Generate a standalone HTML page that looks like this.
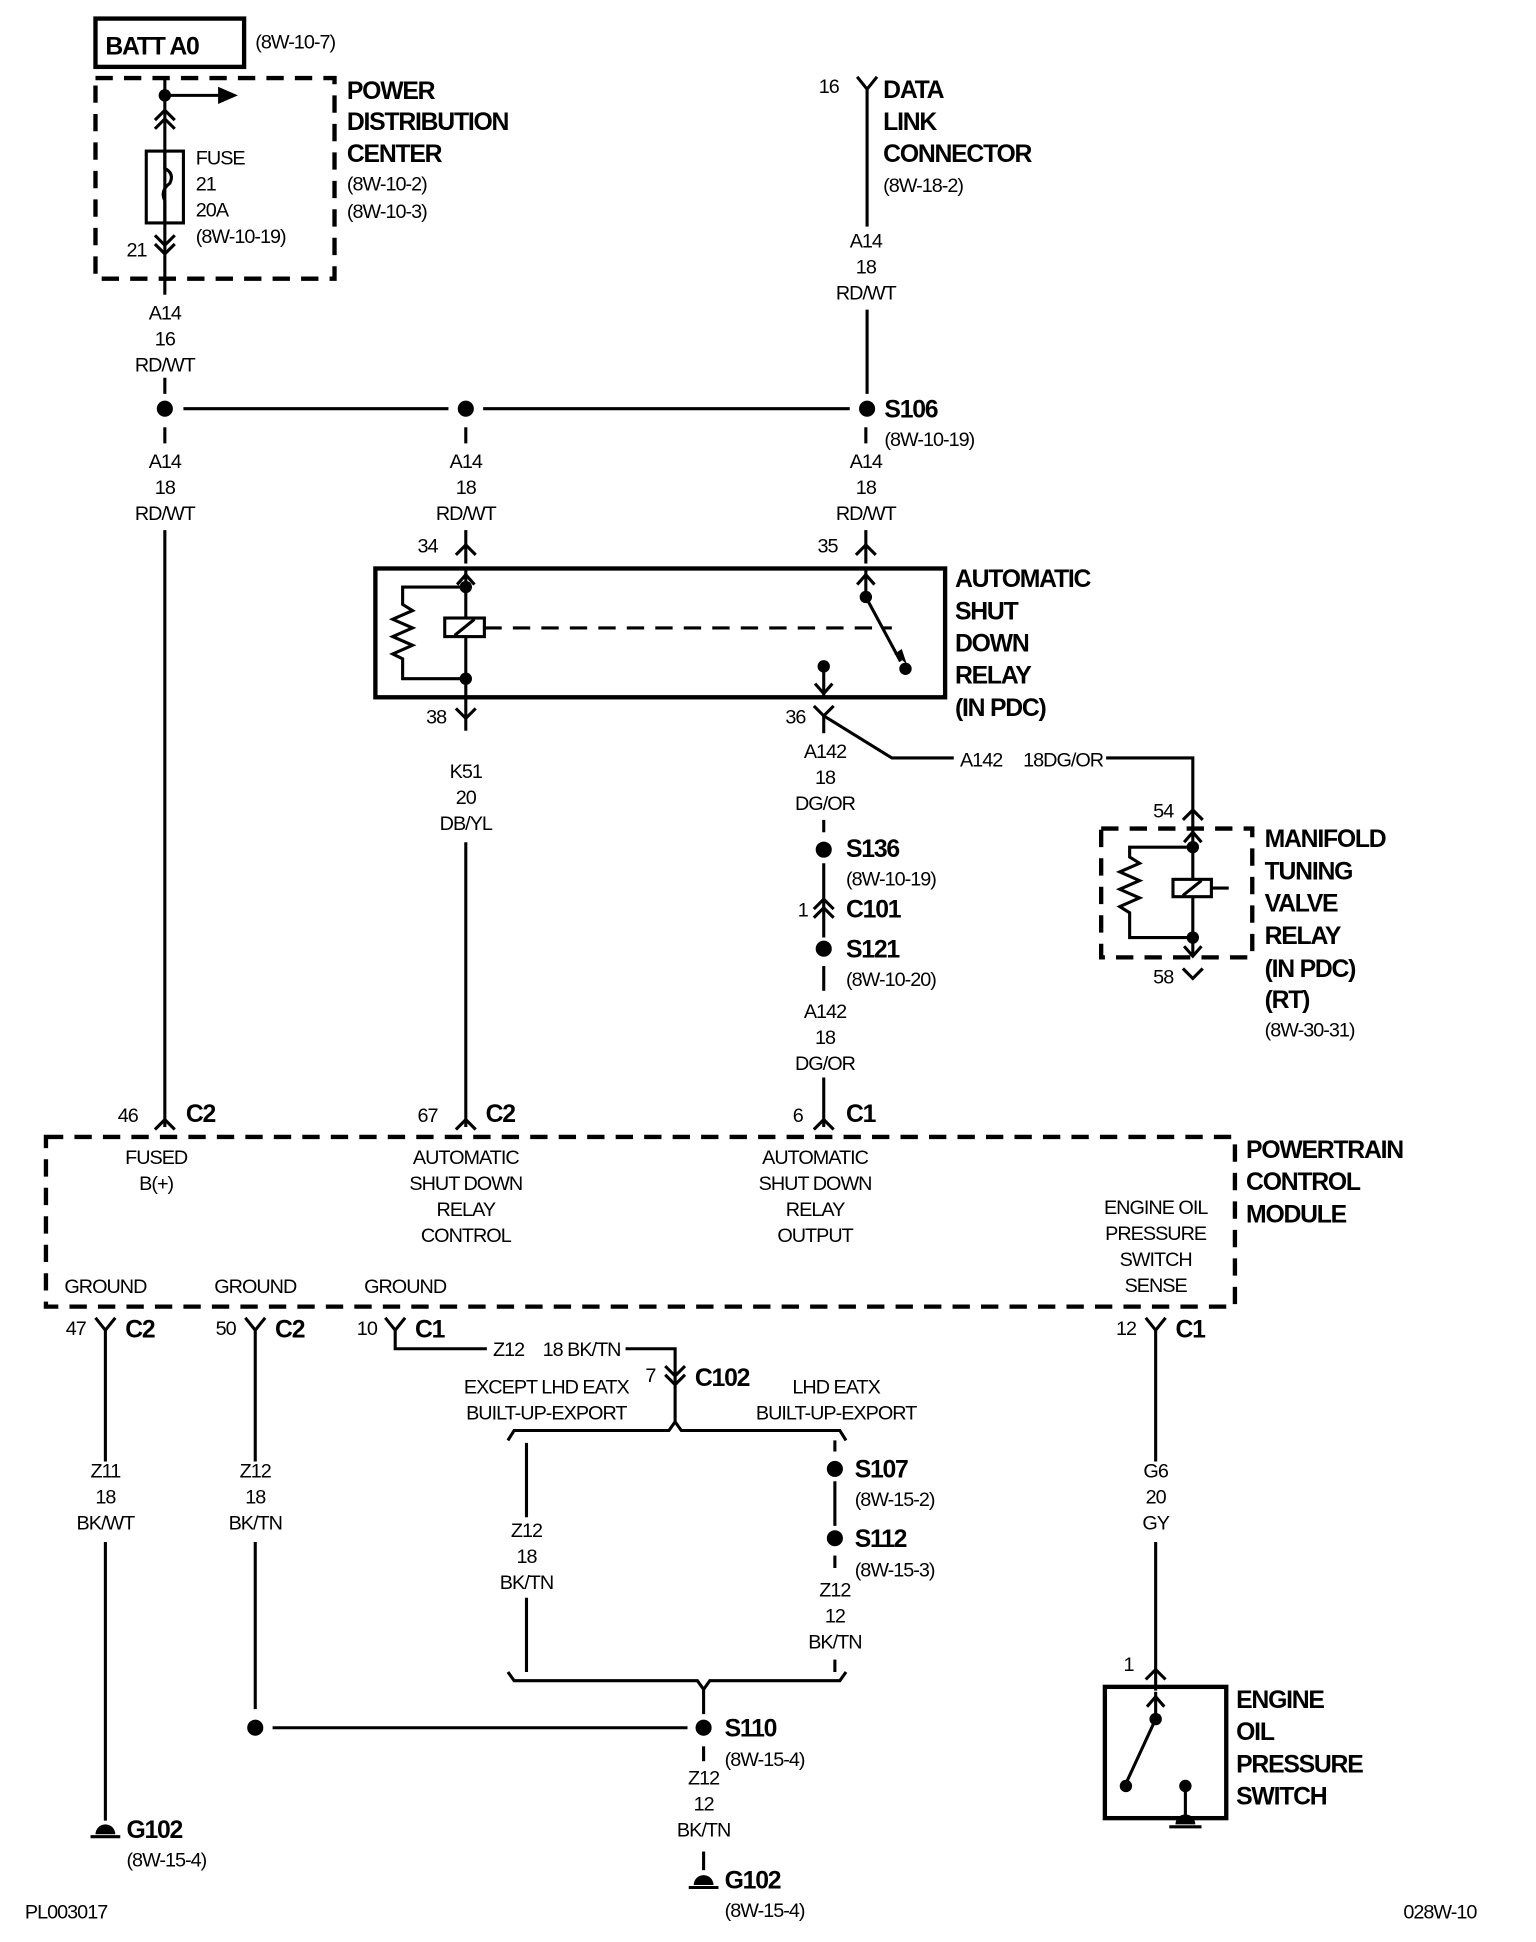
<!DOCTYPE html>
<html><head><meta charset="utf-8"><style>
html,body{margin:0;padding:0;background:#fff;}
svg{display:block;}
text{font-family:"Liberation Sans",Arial,sans-serif;fill:#000;}
.s{font-size:16px;letter-spacing:-0.8px;}
.c{font-size:16px;letter-spacing:-0.8px;text-anchor:middle;}
.b{font-size:20px;font-weight:bold;letter-spacing:-1px;}
</style></head><body>
<svg width="1536" height="1942" viewBox="0 0 1240 1568" xmlns="http://www.w3.org/2000/svg">
<g fill="none" stroke="#000" stroke-width="2.5">
<rect x="77" y="15" width="120" height="39" stroke-width="3.5"/>
<rect x="77" y="63" width="193" height="162" stroke-width="3.5" stroke-dasharray="14,9"/>
<line x1="133" y1="63" x2="133" y2="238"/>
<line x1="133" y1="77" x2="178" y2="77"/>
<polyline points="125,104 133,96 141,104"/><polyline points="125,97 133,89 141,97"/>
<rect x="118" y="122" width="30" height="58"/>
<path d="M133,122 v14 q8,4 4,12 q-8,6 -4,14 v18" />
<polyline points="125,190 133,198 141,190"/><polyline points="125,197 133,205 141,197"/>
<line x1="133" y1="305" x2="133" y2="318"/>
<line x1="148" y1="330" x2="362" y2="330"/>
<line x1="390" y1="330" x2="686" y2="330"/>
<line x1="133" y1="345" x2="133" y2="358"/>
<line x1="376" y1="345" x2="376" y2="358"/>
<line x1="699" y1="345" x2="699" y2="358"/>
<line x1="133" y1="428" x2="133" y2="910"/>
<polyline points="125,912 133,904 141,912"/>
<polyline points="692,62 700,72 708,62"/>
<line x1="700" y1="72" x2="700" y2="183"/>
<line x1="700" y1="250" x2="700" y2="318"/>
<rect x="303" y="459" width="460" height="104" stroke-width="3.5"/>
<line x1="376" y1="428" x2="376" y2="455"/><polyline points="368,448 376,440 384,448"/>
<line x1="699" y1="428" x2="699" y2="455"/><polyline points="691,448 699,440 707,448"/>
<line x1="376" y1="460" x2="376" y2="548"/><polyline points="369,472 376,464 383,472"/>
<polyline points="376,474 325,474 325,488 333,493 317,500 333,507 317,514 333,521 317,528 325,532 325,548 376,548"/>
<rect x="359" y="499" width="32" height="15" fill="#fff"/>
<line x1="367" y1="513" x2="383" y2="500"/>
<line x1="391" y1="507" x2="720" y2="507" stroke-dasharray="14,9"/>
<line x1="699" y1="460" x2="699" y2="482"/><polyline points="692,472 699,464 706,472"/>
<line x1="699" y1="482" x2="727" y2="534"/>
<line x1="665" y1="538" x2="665" y2="563"/><polyline points="658,552 665,560 672,552"/>
<line x1="376" y1="548" x2="376" y2="590"/><polyline points="368,572 376,580 384,572"/>
<polyline points="657,570 665,578 673,570"/>
<line x1="376" y1="680" x2="376" y2="910"/><polyline points="368,912 376,904 384,912"/>
<line x1="665" y1="578" x2="665" y2="592"/>
<polyline points="665,578 720,612 770,612"/>
<polyline points="893,612 963,612 963,668"/>
<polyline points="955,662 963,654 971,662"/>
<line x1="665" y1="662" x2="665" y2="672"/>
<line x1="665" y1="697" x2="665" y2="757"/>
<polyline points="657,741 665,733 673,741"/><polyline points="657,734 665,726 673,734"/>
<line x1="665" y1="780" x2="665" y2="800"/>
<line x1="665" y1="870" x2="665" y2="910"/><polyline points="657,912 665,904 673,912"/>
<rect x="889" y="669" width="122" height="104" stroke-width="3.5" stroke-dasharray="14,9"/>
<line x1="963" y1="668" x2="963" y2="772"/><polyline points="956,680 963,672 970,680"/>
<polyline points="963,684 912,684 912,692 920,697 904,704 920,711 904,718 920,725 904,732 912,737 912,757 963,757"/>
<rect x="947" y="710" width="31" height="14" fill="#fff"/>
<line x1="955" y1="723" x2="970" y2="711"/>
<line x1="978" y1="717" x2="992" y2="717"/>
<polyline points="956,764 963,772 970,764"/>
<polyline points="955,782 963,790 971,782"/>
<rect x="37" y="918" width="960" height="137" stroke-width="3.5" stroke-dasharray="14,9"/>
<polyline points="77,1064 85,1074 93,1064"/><line x1="85" y1="1074" x2="85" y2="1180"/>
<polyline points="198,1064 206,1074 214,1064"/><line x1="206" y1="1074" x2="206" y2="1180"/>
<polyline points="311,1064 319,1074 327,1064"/><polyline points="319,1074 319,1089 393,1089"/>
<polyline points="505,1089 545,1089 545,1148"/>
<polyline points="537,1103 545,1111 553,1103"/><polyline points="537,1110 545,1118 553,1110"/>
<polyline points="925,1064 933,1074 941,1064"/><line x1="933" y1="1074" x2="933" y2="1180"/>
<polyline points="410,1163 415,1155 540,1155 545,1148 550,1155 678,1155 683,1163"/>
<line x1="425" y1="1165" x2="425" y2="1225"/>
<line x1="425" y1="1290" x2="425" y2="1350"/>
<line x1="674" y1="1163" x2="674" y2="1172"/>
<line x1="674" y1="1196" x2="674" y2="1232"/>
<line x1="674" y1="1256" x2="674" y2="1266"/>
<line x1="674" y1="1340" x2="674" y2="1350"/>
<polyline points="410,1350 415,1357 563,1357 568,1364 573,1357 678,1357 683,1350"/>
<line x1="568" y1="1364" x2="568" y2="1384"/>
<line x1="206" y1="1245" x2="206" y2="1380"/>
<line x1="220" y1="1395" x2="555" y2="1395"/>
<line x1="85" y1="1245" x2="85" y2="1470"/>
<line x1="568" y1="1410" x2="568" y2="1422"/>
<line x1="568" y1="1495" x2="568" y2="1510"/>
<line x1="933" y1="1245" x2="933" y2="1365"/><polyline points="925,1356 933,1348 941,1356"/>
<rect x="892" y="1362" width="98" height="106" stroke-width="3.5"/>
<line x1="933" y1="1366" x2="933" y2="1388"/><polyline points="926,1378 933,1370 940,1378"/>
<line x1="933" y1="1388" x2="909" y2="1440"/>
<line x1="957" y1="1442" x2="957" y2="1468"/>
<line x1="944" y1="1475" x2="970" y2="1475"/>
<line x1="73" y1="1483" x2="97" y2="1483"/>
<line x1="556" y1="1524" x2="580" y2="1524"/>
</g>
<g fill="#000">
<polygon points="176,70 192,77 176,84"/>
<circle cx="133" cy="77" r="5"/>
<circle cx="133" cy="330" r="6.5"/><circle cx="376" cy="330" r="6.5"/><circle cx="700" cy="330" r="6.5"/>
<circle cx="376" cy="474" r="5"/><circle cx="376" cy="548" r="5"/>
<circle cx="699" cy="482" r="5"/><circle cx="731" cy="540" r="5"/><circle cx="665" cy="538" r="5"/>
<polygon points="722,528 732,536 728,524"/>
<circle cx="665" cy="686" r="6.5"/><circle cx="665" cy="766" r="6.5"/>
<circle cx="963" cy="684" r="5"/><circle cx="963" cy="757" r="5"/>
<circle cx="674" cy="1186" r="6.5"/><circle cx="674" cy="1242" r="6.5"/>
<circle cx="206" cy="1395" r="6.5"/><circle cx="568" cy="1395" r="6.5"/>
<circle cx="933" cy="1388" r="5"/><circle cx="909" cy="1442" r="5"/><circle cx="957" cy="1442" r="5"/>
<path d="M77,1481 a8,8 0 0 1 16,0 z"/>
<path d="M560,1522 a8,8 0 0 1 16,0 z"/>
<path d="M949,1473 a8,8 0 0 1 16,0 z"/>
</g>
<text class="b" x="85" y="44">BATT A0</text>
<text class="s" x="206" y="39">(8W-10-7)</text>
<text class="b" x="280" y="80">POWER</text>
<text class="b" x="280" y="105">DISTRIBUTION</text>
<text class="b" x="280" y="131">CENTER</text>
<text class="s" x="280" y="154">(8W-10-2)</text>
<text class="s" x="280" y="176">(8W-10-3)</text>
<text class="s" x="158" y="133">FUSE</text>
<text class="s" x="158" y="154">21</text>
<text class="s" x="158" y="175">20A</text>
<text class="s" x="158" y="196">(8W-10-19)</text>
<text class="s" x="102" y="207">21</text>
<text class="c" x="133" y="258">A14</text><text class="c" x="133" y="279">16</text><text class="c" x="133" y="300">RD/WT</text>
<text class="s" x="661" y="75">16</text>
<text class="b" x="713" y="79">DATA</text>
<text class="b" x="713" y="105">LINK</text>
<text class="b" x="713" y="131">CONNECTOR</text>
<text class="s" x="713" y="155">(8W-18-2)</text>
<text class="c" x="699" y="200">A14</text><text class="c" x="699" y="221">18</text><text class="c" x="699" y="242">RD/WT</text>
<text class="b" x="714" y="337">S106</text>
<text class="s" x="714" y="360">(8W-10-19)</text>
<text class="c" x="133" y="378">A14</text><text class="c" x="133" y="399">18</text><text class="c" x="133" y="420">RD/WT</text>
<text class="c" x="376" y="378">A14</text><text class="c" x="376" y="399">18</text><text class="c" x="376" y="420">RD/WT</text>
<text class="c" x="699" y="378">A14</text><text class="c" x="699" y="399">18</text><text class="c" x="699" y="420">RD/WT</text>
<text class="s" x="337" y="446">34</text><text class="s" x="660" y="446">35</text>
<text class="b" x="771" y="474">AUTOMATIC</text>
<text class="b" x="771" y="500">SHUT</text>
<text class="b" x="771" y="526">DOWN</text>
<text class="b" x="771" y="552">RELAY</text>
<text class="b" x="771" y="578">(IN PDC)</text>
<text class="s" x="344" y="584">38</text><text class="s" x="634" y="584">36</text>
<text class="c" x="376" y="628">K51</text><text class="c" x="376" y="649">20</text><text class="c" x="376" y="670">DB/YL</text>
<text class="c" x="666" y="612">A142</text><text class="c" x="666" y="633">18</text><text class="c" x="666" y="654">DG/OR</text>
<text class="s" x="775" y="619">A142</text><text class="s" x="826" y="619">18DG/OR</text>
<text class="s" x="931" y="660">54</text><text class="s" x="931" y="794">58</text>
<text class="b" x="1021" y="684">MANIFOLD</text>
<text class="b" x="1021" y="710">TUNING</text>
<text class="b" x="1021" y="736">VALVE</text>
<text class="b" x="1021" y="762">RELAY</text>
<text class="b" x="1021" y="789">(IN PDC)</text>
<text class="b" x="1021" y="814">(RT)</text>
<text class="s" x="1021" y="837">(8W-30-31)</text>
<text class="b" x="683" y="692">S136</text><text class="s" x="683" y="715">(8W-10-19)</text>
<text class="s" x="644" y="740">1</text><text class="b" x="683" y="741">C101</text>
<text class="b" x="683" y="773">S121</text><text class="s" x="683" y="796">(8W-10-20)</text>
<text class="c" x="666" y="822">A142</text><text class="c" x="666" y="843">18</text><text class="c" x="666" y="864">DG/OR</text>
<text class="s" x="95" y="906">46</text><text class="b" x="150" y="906">C2</text>
<text class="s" x="337" y="906">67</text><text class="b" x="392" y="906">C2</text>
<text class="s" x="640" y="906">6</text><text class="b" x="683" y="906">C1</text>
<text class="b" x="1006" y="935">POWERTRAIN</text>
<text class="b" x="1006" y="961">CONTROL</text>
<text class="b" x="1006" y="987">MODULE</text>
<text class="c" x="126" y="940">FUSED</text><text class="c" x="126" y="961">B(+)</text>
<text class="c" x="376" y="940">AUTOMATIC</text><text class="c" x="376" y="961">SHUT DOWN</text><text class="c" x="376" y="982">RELAY</text><text class="c" x="376" y="1003">CONTROL</text>
<text class="c" x="658" y="940">AUTOMATIC</text><text class="c" x="658" y="961">SHUT DOWN</text><text class="c" x="658" y="982">RELAY</text><text class="c" x="658" y="1003">OUTPUT</text>
<text class="c" x="933" y="980">ENGINE OIL</text><text class="c" x="933" y="1001">PRESSURE</text><text class="c" x="933" y="1022">SWITCH</text><text class="c" x="933" y="1043">SENSE</text>
<text class="c" x="85" y="1044">GROUND</text><text class="c" x="206" y="1044">GROUND</text><text class="c" x="327" y="1044">GROUND</text>
<text class="s" x="53" y="1078">47</text><text class="b" x="101" y="1080">C2</text>
<text class="s" x="174" y="1078">50</text><text class="b" x="222" y="1080">C2</text>
<text class="s" x="288" y="1078">10</text><text class="b" x="335" y="1080">C1</text>
<text class="s" x="901" y="1078">12</text><text class="b" x="949" y="1080">C1</text>
<text class="s" x="398" y="1095">Z12</text><text class="s" x="438" y="1095">18 BK/TN</text>
<text class="s" x="521" y="1116">7</text><text class="b" x="561" y="1119">C102</text>
<text class="c" x="441" y="1125">EXCEPT LHD EATX</text><text class="c" x="441" y="1146">BUILT-UP-EXPORT</text>
<text class="c" x="675" y="1125">LHD EATX</text><text class="c" x="675" y="1146">BUILT-UP-EXPORT</text>
<text class="c" x="85" y="1193">Z11</text><text class="c" x="85" y="1214">18</text><text class="c" x="85" y="1235">BK/WT</text>
<text class="c" x="206" y="1193">Z12</text><text class="c" x="206" y="1214">18</text><text class="c" x="206" y="1235">BK/TN</text>
<text class="c" x="933" y="1193">G6</text><text class="c" x="933" y="1214">20</text><text class="c" x="933" y="1235">GY</text>
<text class="c" x="425" y="1241">Z12</text><text class="c" x="425" y="1262">18</text><text class="c" x="425" y="1283">BK/TN</text>
<text class="b" x="690" y="1193">S107</text><text class="s" x="690" y="1216">(8W-15-2)</text>
<text class="b" x="690" y="1249">S112</text><text class="s" x="690" y="1273">(8W-15-3)</text>
<text class="c" x="674" y="1289">Z12</text><text class="c" x="674" y="1310">12</text><text class="c" x="674" y="1331">BK/TN</text>
<text class="s" x="907" y="1349">1</text>
<text class="b" x="998" y="1379">ENGINE</text>
<text class="b" x="998" y="1405">OIL</text>
<text class="b" x="998" y="1431">PRESSURE</text>
<text class="b" x="998" y="1457">SWITCH</text>
<text class="b" x="585" y="1402">S110</text><text class="s" x="585" y="1426">(8W-15-4)</text>
<text class="c" x="568" y="1441">Z12</text><text class="c" x="568" y="1462">12</text><text class="c" x="568" y="1483">BK/TN</text>
<text class="b" x="102" y="1484">G102</text><text class="s" x="102" y="1507">(8W-15-4)</text>
<text class="b" x="585" y="1525">G102</text><text class="s" x="585" y="1548">(8W-15-4)</text>
<text class="s" x="20" y="1549">PL003017</text>
<text class="s" x="1133" y="1549">028W-10</text>
</svg>
</body></html>
